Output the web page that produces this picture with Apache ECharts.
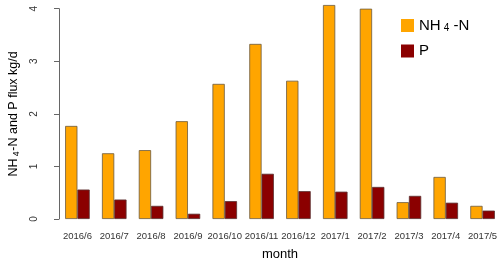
<!DOCTYPE html>
<html><head><meta charset="utf-8">
<script src="https://cdn.jsdelivr.net/npm/echarts@6/dist/echarts.min.js"></script>
<style>html,body{margin:0;padding:0;background:#fff}#c{width:500px;height:262px}</style>
</head><body><div id="c"></div>
<script>
const months = ['2016/6','2016/7','2016/8','2016/9','2016/10','2016/11','2016/12','2017/1','2017/2','2017/3','2017/4','2017/5'];
const nh4n = [1.77,1.25,1.31,1.86,2.57,3.33,2.63,4.07,4.00,0.32,0.80,0.25];
const p = [0.56,0.37,0.25,0.10,0.34,0.86,0.53,0.52,0.61,0.44,0.31,0.16];
const yTicks = [0,1,2,3,4];

const font = 'Liberation Sans, Arial, sans-serif';
const chart = echarts.init(document.getElementById('c'), null, {renderer:'canvas'});
chart.setOption({
  animation:false,
  backgroundColor:'#fff',
  grid:{left:59, width:442, top:8.7, bottom:43, containLabel:false, outerBoundsMode:'none'},
  legend:{
    orient:'vertical', left:396, top:13, itemWidth:13, itemHeight:13, itemGap:10,
    icon:'rect',
    data:[{name:'NH4-N'},{name:'P'}],
    formatter: n => n==='NH4-N' ? '{a|NH}{s|4}{a| -N}' : '{a|P}',
    textStyle:{fontFamily:font, fontSize:15, color:'#000',
      rich:{a:{fontFamily:font,fontSize:15,color:'#000'}, s:{fontFamily:font,fontSize:10,color:'#000',verticalAlign:'bottom',padding:[6,0,0,3]}}},
    itemStyle:{borderWidth:0}
  },
  xAxis:{
    type:'category', data:months,
    axisLine:{show:false}, axisTick:{show:false},
    axisLabel:{fontFamily:font, fontSize:9.5, color:'#333', margin:12, interval:0},
    name:'month', nameLocation:'middle', nameGap:29,
    nameTextStyle:{fontFamily:font, fontSize:13, color:'#000'}
  },
  yAxis:{
    type:'value', min:yTicks[0], max:yTicks[yTicks.length-1], interval:1,
    splitLine:{show:false},
    axisLine:{show:true, lineStyle:{color:'#666', width:1}},
    axisTick:{show:true, length:5, lineStyle:{color:'#666'}},
    axisLabel:{rotate:90, fontFamily:font, fontSize:10, color:'#333', margin:20},
    name:'{a|NH}{s|4}{a|-N and P flux kg/d}', nameLocation:'middle', nameGap:38,
    nameTextStyle:{fontFamily:font, fontSize:12, color:'#000',
      rich:{a:{fontFamily:font,fontSize:12.5,color:'#000'}, s:{fontFamily:font,fontSize:8.5,color:'#000',verticalAlign:'bottom',padding:[6,1,0,2]}}}
  },
  series:[
    {name:'NH4-N', type:'bar', data:nh4n, clip:false, barGap:'0%', barCategoryGap:'33.3%',
     itemStyle:{color:'#FFA500', borderColor:'#6b5a40', borderWidth:0.8}},
    {name:'P', type:'bar', data:p, clip:false, barGap:'0%', barCategoryGap:'33.3%',
     itemStyle:{color:'#8B0000', borderColor:'#5a3030', borderWidth:0.8}}
  ]
});
</script></body></html>
